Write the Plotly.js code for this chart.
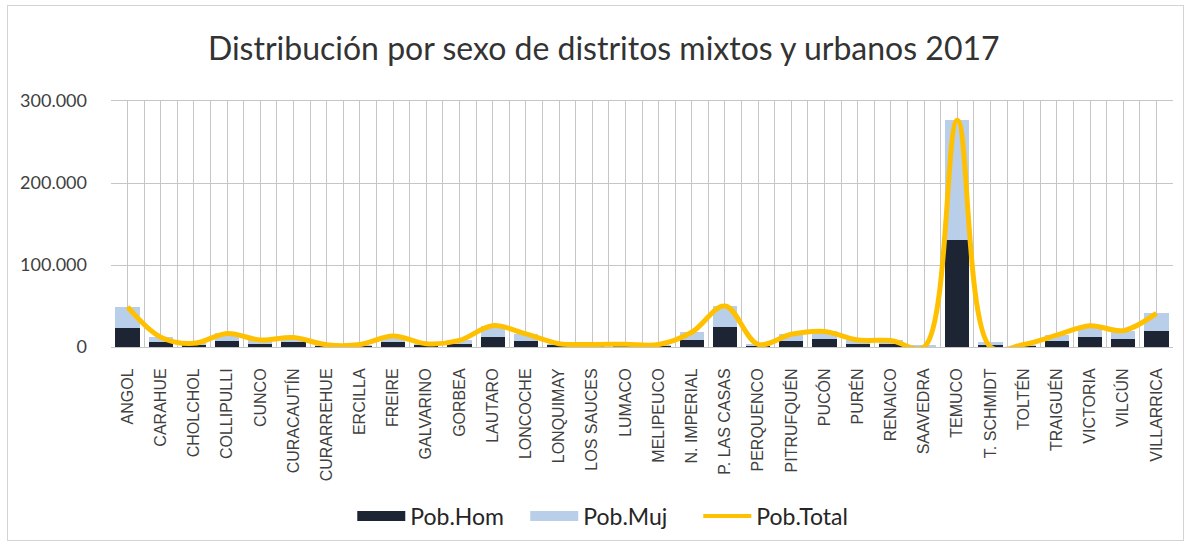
<!DOCTYPE html>
<html>
<head>
<meta charset="utf-8">
<script src="https://cdn.plot.ly/plotly-3.0.1.min.js"></script>
<style>
  html, body { margin: 0; padding: 0; background: #ffffff; }
  #frame { position: absolute; left: 7px; top: 5px; width: 1175px; height: 534px; border: 1px solid #d4d4d4; }
  #chart { position: absolute; left: 0; top: 0; width: 1175px; height: 534px; }
</style>
</head>
<body>
<div id="frame"><div id="chart"></div></div>
<script>
// ---- data ----
const categories = ["ANGOL","CARAHUE","CHOLCHOL","COLLIPULLI","CUNCO","CURACAUTÍN","CURARREHUE","ERCILLA","FREIRE","GALVARINO","GORBEA","LAUTARO","LONCOCHE","LONQUIMAY","LOS SAUCES","LUMACO","MELIPEUCO","N. IMPERIAL","P. LAS CASAS","PERQUENCO","PITRUFQUÉN","PUCÓN","PURÉN","RENAICO","SAAVEDRA","TEMUCO","T. SCHMIDT","TOLTÉN","TRAIGUÉN","VICTORIA","VILCÚN","VILLARRICA"];
const pobHom   = [23000,5800,2200,7900,4000,5500,1300,1400,6400,1900,3800,12000,7600,1900,1500,1600,1400,8200,24000,1600,7400,9200,4000,3800,500,130500,2400,1400,6800,11800,9500,19500];
const pobMuj   = [26000,6200,2300,8600,4500,6000,1400,1600,7100,2100,4200,14000,8400,2100,1700,1700,1600,9800,26000,1700,8100,9800,4500,4200,2000,146000,3300,1600,7700,14200,10500,21500];
const pobTotal = [49000,12000,4500,16500,8500,11500,2700,3000,13500,4000,8000,26000,16000,4000,3200,3300,3000,18000,50000,3300,15500,19000,8500,8000,0,276500,0,3000,14500,26000,20000,41000];
const yTickVals = [0, 100000, 200000, 300000];
const seriesNames = ["Pob.Hom", "Pob.Muj", "Pob.Total"];
const seriesColors = ["#1d2535", "#b9cfe9", "#ffc000"];

const xPos = categories.map((c, i) => i);
const boundaries = categories.map((c, i) => i - 0.5).concat([categories.length - 0.5]);

const traces = [
  { type: "bar", name: seriesNames[0], x: xPos, y: pobHom, marker: { color: seriesColors[0] }, showlegend: false },
  { type: "bar", name: seriesNames[1], x: xPos, y: pobMuj, marker: { color: seriesColors[1] }, showlegend: false },
  { type: "scatter", mode: "lines", name: seriesNames[2], x: xPos, y: pobTotal,
    line: { color: seriesColors[2], width: 5, shape: "spline", smoothing: 1 }, showlegend: false },
  // legend keys (wide swatches like the original)
  { type: "scatter", mode: "lines", name: seriesNames[0], x: [null], y: [null], line: { color: seriesColors[0], width: 13 }, showlegend: true },
  { type: "scatter", mode: "lines", name: seriesNames[1], x: [null], y: [null], line: { color: seriesColors[1], width: 13 }, showlegend: true },
  { type: "scatter", mode: "lines", name: seriesNames[2], x: [null], y: [null], line: { color: seriesColors[2], width: 4 }, showlegend: true }
];

const layout = {
  width: 1175, height: 534,
  margin: { l: 103, r: 10, t: 95, b: 193 },
  paper_bgcolor: "#ffffff", plot_bgcolor: "#ffffff",
  separators: ",.",
  barmode: "stack",
  bargap: 0.27,
  font: { family: "Lato, 'Open Sans', sans-serif", color: "#404040" },
  title: {
    text: "Distribución por sexo de distritos mixtos y urbanos 2017",
    font: { family: "Lato, 'Open Sans', sans-serif", size: 32, color: "#333333" },
    xref: "container", yref: "container", x: 0.507, xanchor: "center", y: 0.92, yanchor: "middle"
  },
  xaxis: {
    type: "linear", automargin: false,
    range: [-0.5, categories.length - 0.5],
    tickmode: "array", tickvals: xPos, ticktext: categories,
    tickangle: -90,
    tickfont: { family: "'Liberation Sans', Arial, sans-serif", size: 16, color: "#404040" },
    ticks: "", ticklabelstandoff: 14,
    showgrid: true, gridcolor: "#c6c6c6", gridwidth: 1,
    minor: { tickmode: "array", tickvals: boundaries, showgrid: true, gridcolor: "#c6c6c6", gridwidth: 1, ticks: "" },
    showline: true, linecolor: "#c6c6c6", linewidth: 1, mirror: true,
    zeroline: false, fixedrange: true
  },
  yaxis: {
    automargin: false,
    range: [0, 300000],
    tickmode: "array", tickvals: yTickVals,
    tickformat: ",d",
    tickfont: { family: "Lato, 'Open Sans', sans-serif", size: 18, color: "#404040" },
    ticks: "", ticklabelstandoff: 23,
    showgrid: true, gridcolor: "#c6c6c6", gridwidth: 1,
    zeroline: false, showline: false, fixedrange: true
  },
  showlegend: true,
  legend: {
    orientation: "h",
    xref: "container", yref: "container",
    x: 0.293, xanchor: "left", y: 0.085, yanchor: "top",
    font: { family: "Lato, 'Open Sans', sans-serif", size: 23, color: "#262626" },
    itemwidth: 48, entrywidth: 110, traceorder: "normal", bgcolor: "rgba(0,0,0,0)"
  }
};

Plotly.newPlot("chart", traces, layout, { displayModeBar: false, staticPlot: true });
</script>
</body>
</html>
